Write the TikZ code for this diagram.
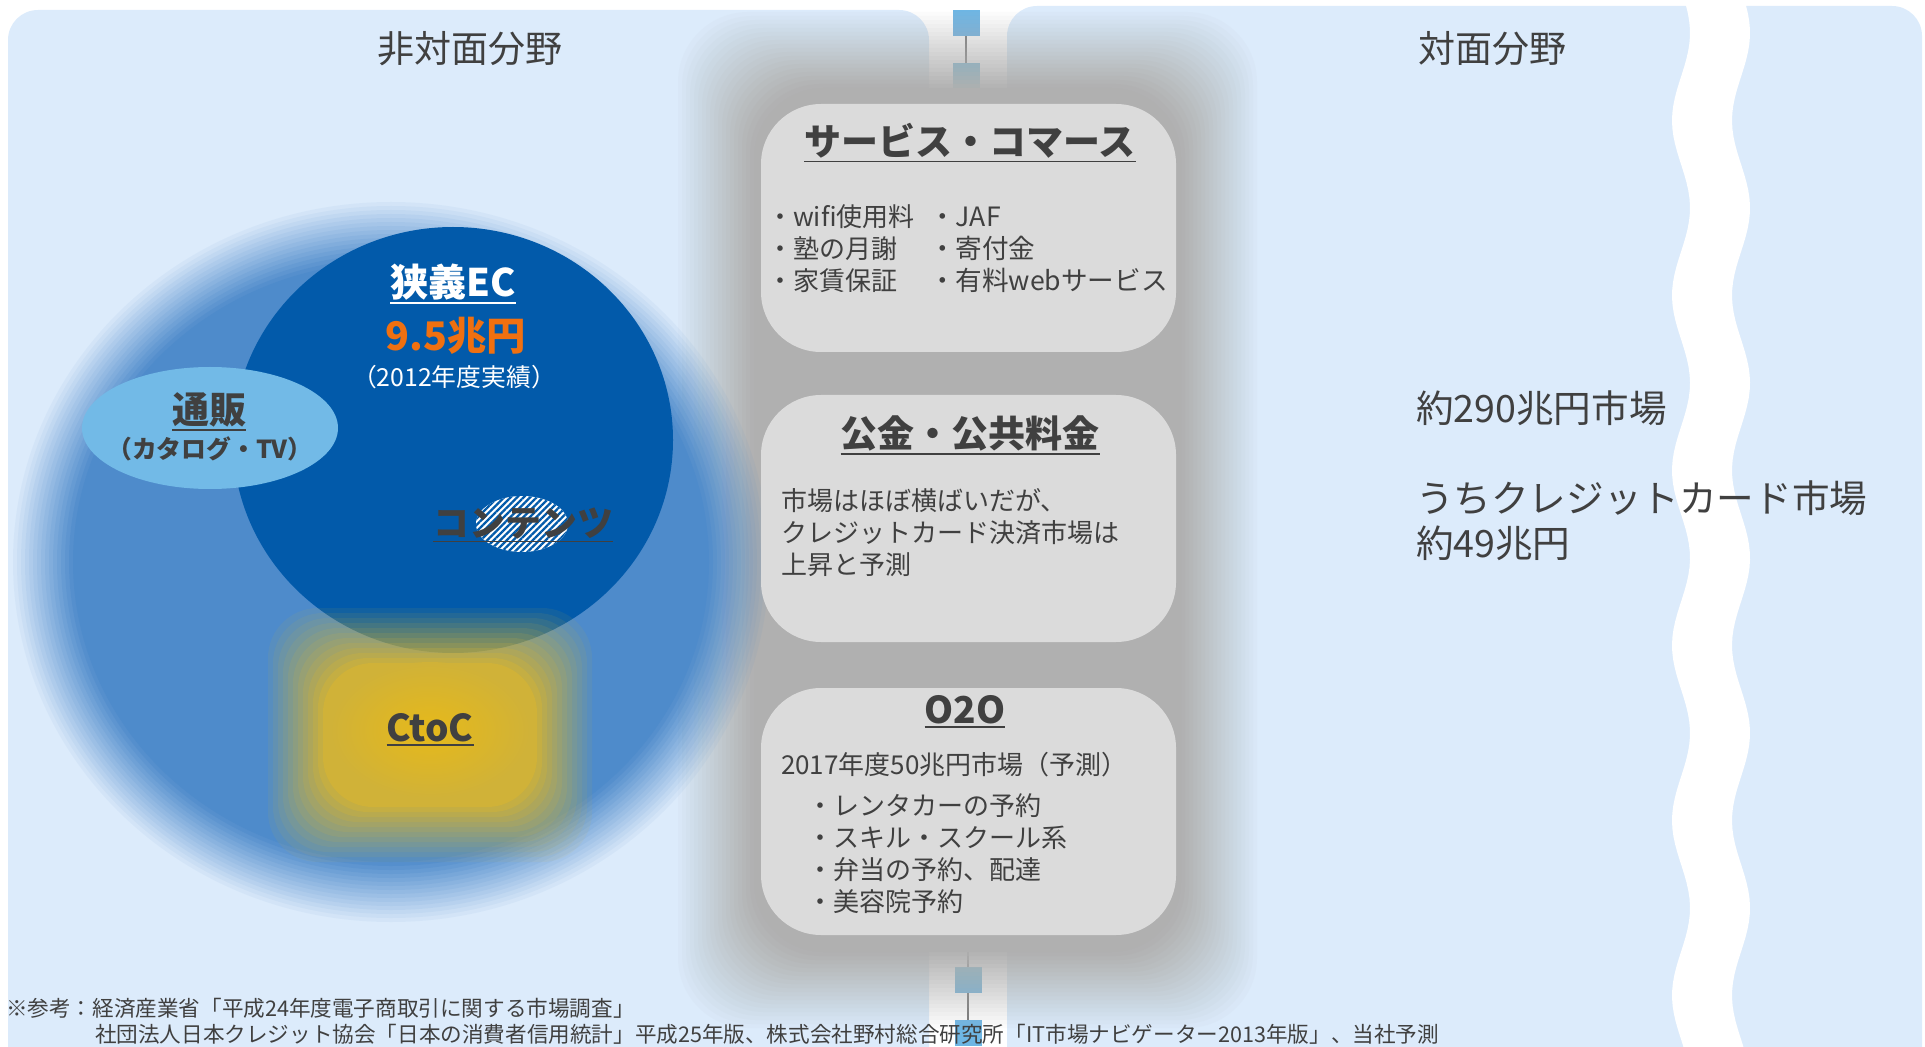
\documentclass[tikz,border=0pt]{standalone}
\usepackage{fontspec}
\setmainfont{Noto Sans CJK JP}
\usetikzlibrary{patterns.meta}
\definecolor{panel}{RGB}{220,235,251}
\definecolor{txt}{RGB}{64,64,64}
\definecolor{bigblue}{RGB}{78,139,203}
\definecolor{darkblue}{RGB}{2,90,170}
\definecolor{lightblue}{RGB}{114,186,231}
\definecolor{yel}{RGB}{208,178,56}
\definecolor{yelc}{RGB}{230,185,26}
\definecolor{colgray}{RGB}{176,176,176}
\definecolor{boxgray}{RGB}{219,219,219}
\definecolor{orng}{RGB}{240,112,16}
\definecolor{sqblue}{RGB}{110,182,228}
\definecolor{linegray}{RGB}{120,120,120}
\newcommand\fsT{\fontsize{18.5}{22}\selectfont}
\newcommand\fsR{\fontsize{18.8}{22}\selectfont}
\newcommand\fsB{\fontsize{13}{16}\selectfont}
\newcommand\fsM{\fontsize{12.4}{16}\selectfont}
\newcommand\fsF{\fontsize{10.8}{13}\selectfont}
\newcommand\myul[1]{\leavevmode\vtop{\hbox{#1}\kern1pt\hrule height 0.8pt}}
\begin{document}
\begin{tikzpicture}[x=0.5pt,y=-0.5pt,
  every node/.style={inner sep=0pt, outer sep=0pt, text=txt},
  sqbox/.style={fill=sqblue, minimum width=13.5pt, minimum height=13pt},
  gbox/.style={fill=boxgray, rounded corners=30pt, minimum width=207.5pt},
  connline/.style={draw=linegray, line width=1.3pt},
  lefttext/.style={anchor=west, align=left}]
\useasboundingbox (0,0) rectangle (1925,1047);
\clip (0,0) rectangle (1925,1047);
% panels
\fill[panel, rounded corners=15pt] (8,10) rectangle (929,1120);
\fill[panel, rounded corners=15pt] (1007,6) rectangle (1922,1120);
% wavy white band
\fill[white] plot[domain=-10:1060, samples=140] ({1681+9*cos((\x-33)/175*360)},\x)
  -- plot[domain=1060:-10, samples=140] ({1741+9*cos((\x-33)/175*360)},\x) -- cycle;
% connector squares
\node[sqbox] (sqA) at (966,23) {};
\node[sqbox] (sqB) at (966,76) {};
\node[sqbox] (sqC) at (968,980) {};
\node[sqbox] (sqD) at (968,1033) {};
\coordinate (b1top) at (966,104);
\coordinate (b3bot) at (968,935);
\draw[connline] (sqA) -- (sqB);
\draw[connline] (sqB) -- (b1top);
\draw[connline] (b3bot) -- (sqC);
\draw[connline] (sqC) -- (sqD);
% gray blurred column (linear fade)
\foreach \i [evaluate=\i as \op using 1/(20-\i)] in {0,...,19} {
  \fill[colgray, opacity=\op, rounded corners=35pt] (678+4*\i,12+4*\i) rectangle (1257-4*\i,1028-4*\i);
}
% big blurred ellipse
\foreach \i [evaluate=\i as \op using 1/(16-\i)] in {0,...,15} {
  \fill[bigblue, opacity=\op] (391,562) ellipse [x radius=378-4*\i, y radius=360-4*\i];
}
% dark blue circle
\fill[darkblue] (453,440) ellipse [x radius=220, y radius=213];
% yellow blurred CtoC
\foreach \i [evaluate=\i as \op using 1/(12-\i)] in {0,...,11} {
  \fill[yel, opacity=\op, rounded corners=25pt] (268+5*\i,608+5*\i) rectangle (592-5*\i,862-5*\i);
}
\shade[inner color=yelc, outer color=yel] (430,730) ellipse [x radius=100, y radius=68];
% 通販 ellipse
\fill[lightblue] (210,428) ellipse [x radius=128, y radius=61];
% hatched ellipse
\fill[white] (522,524) ellipse [x radius=46, y radius=28];
\fill[pattern={Lines[angle=45, distance=2.3pt, line width=1.1pt]}, pattern color=darkblue] (522,524) ellipse [x radius=46, y radius=28];
% gray boxes
\node[gbox, minimum height=124pt] (box1) at (968.5,228) {};
\node[gbox, minimum height=123.5pt] (box2) at (968.5,518.5) {};
\node[gbox, minimum height=123.5pt] (box3) at (968.5,811.5) {};
% header texts
\node (hL) at (470,49) {\fsT 非対面分野};
\node (hR) at (1492,49) {\fsT 対面分野};
% left diagram texts
\node[text=white] (ec) at (453,284) {\fontsize{19}{22}\selectfont\bfseries\myul{狭義EC}};
\node[text=orng] (ecv) at (456,336) {\fontsize{19.7}{22}\selectfont\bfseries 9.5兆円};
\node[text=white] (ecy) at (454,377) {\fsM （2012年度実績）};
\node (tsu) at (209,412) {\fsT\bfseries\myul{通販}};
\node (tsu2) at (210,449) {\fsM\bfseries （カタログ・TV）};
\node (cont) at (523,525) {\fontsize{18}{22}\selectfont\bfseries\myul{コンテンツ}};
\node (ctoc) at (430,730) {\fsT\bfseries\myul{CtoC}};
% box 1
\node (t1) at (970,143) {\fsT\bfseries\myul{サービス・コマース}};
\node[lefttext] (l1a) at (767,252) {\fsB\begin{tabular}{@{}l@{}}・wifi使用料\\・塾の月謝\\・家賃保証\end{tabular}};
\node[lefttext] (l1b) at (929,252) {\fontsize{13.3}{16}\selectfont\begin{tabular}{@{}l@{}}・JAF\\・寄付金\\・有料webサービス\end{tabular}};
% box 2
\node (t2) at (970,435) {\fsT\bfseries\myul{公金・公共料金}};
\node[lefttext] (l2) at (781,536) {\fsB\begin{tabular}{@{}l@{}}市場はほぼ横ばいだが、\\クレジットカード決済市場は\\上昇と予測\end{tabular}};
% box 3
\node (t3) at (965,712) {\fsT\bfseries\myul{O2O}};
\node[lefttext] (l3a) at (781,765) {\fsB 2017年度50兆円市場（予測）};
\node[lefttext] (l3b) at (807,857) {\fsB\begin{tabular}{@{}l@{}}・レンタカーの予約\\・スキル・スクール系\\・弁当の予約、配達\\・美容院予約\end{tabular}};
% right texts
\node[lefttext] (r1) at (1416,408) {\fsR 約290兆円市場};
\node[lefttext] (r2) at (1416,526) {\fsR\begin{tabular}{@{}l@{}}うちクレジットカード市場\\約49兆円\end{tabular}};
% footnote
\node[lefttext] (f1) at (6,1008) {\fsF ※参考：経済産業省「平成24年度電子商取引に関する市場調査」};
\node[lefttext] (f2) at (95,1034) {\fsF 社団法人日本クレジット協会「日本の消費者信用統計」平成25年版、株式会社野村総合研究所「IT市場ナビゲーター2013年版」、当社予測};
\end{tikzpicture}
\end{document}
